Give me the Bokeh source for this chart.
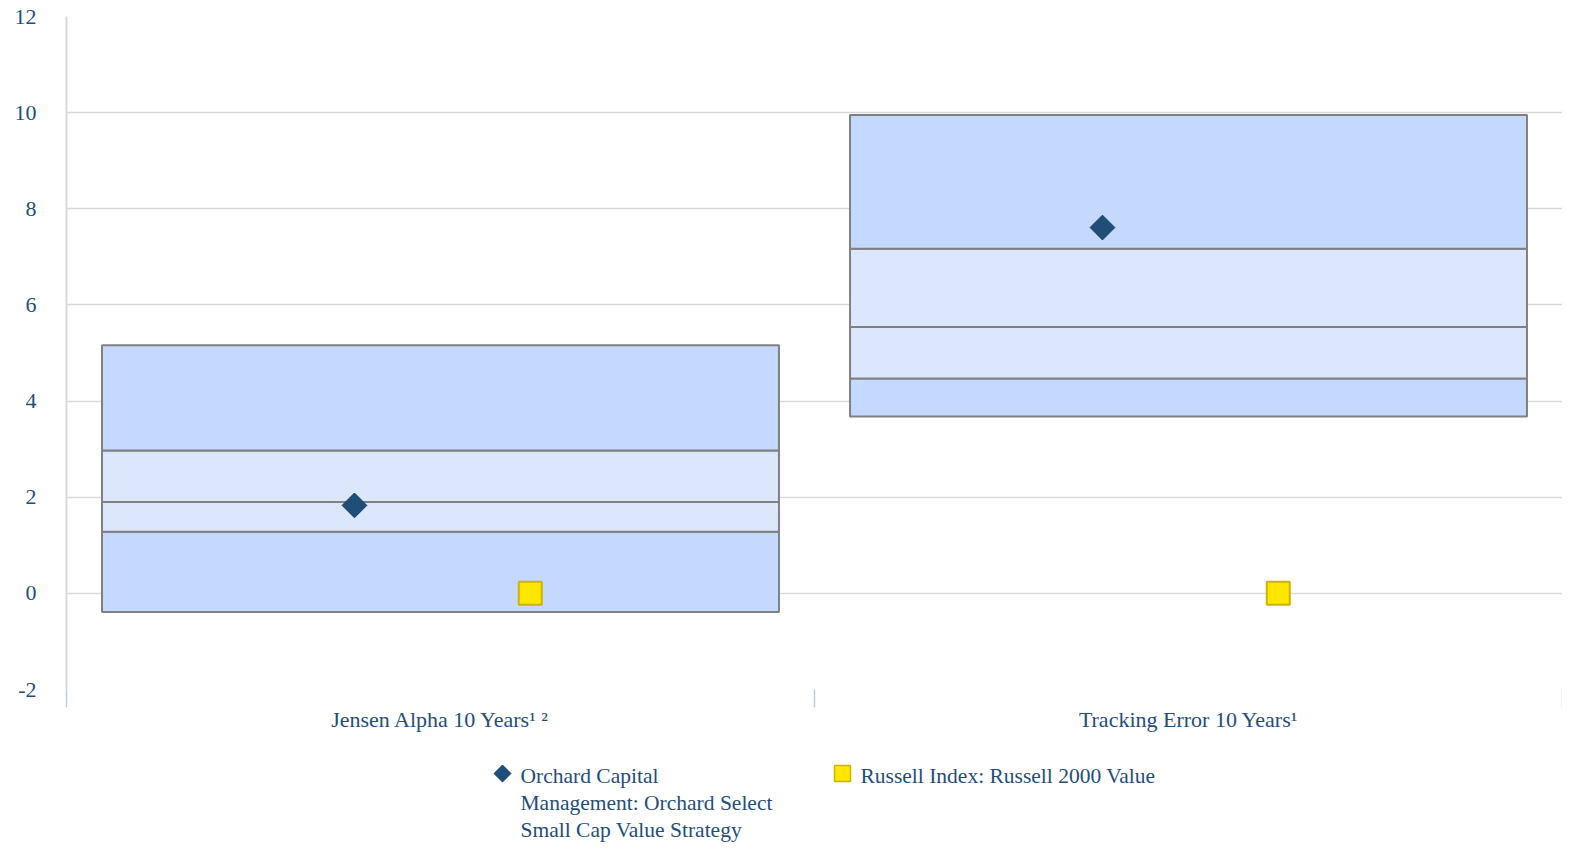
import numpy as np
from bokeh.plotting import figure
from bokeh.layouts import column
from bokeh.models import FixedTicker, Range1d
from bokeh.core.properties import value
from bokeh.embed import file_html
from bokeh.resources import INLINE

# ---------------- data ----------------
categories = ["Jensen Alpha 10 Years\u00b9 \u00b2", "Tracking Error 10 Years\u00b9"]
p05 = [-0.39, 3.68]
p25 = [1.28, 4.47]
p50 = [1.90, 5.54]
p75 = [2.97, 7.17]
p95 = [5.16, 9.95]
strategy_vals = [1.83, 7.61]
index_vals = [0.0, 0.0]
y_ticks = [-2, 0, 2, 4, 6, 8, 10, 12]
series_names = [
    "Orchard Capital\nManagement: Orchard Select\nSmall Cap Value Strategy",
    "Russell Index: Russell 2000 Value",
]

# ---------------- style ----------------
TEXT = "#1f4e79"
FONT = "Liberation Serif"
DARK = "#c5d8fd"
LIGHT = "#dce6fd"
EDGE = "#808080"
DIAMOND_FILL, DIAMOND_LINE = "#1f4e79", "#173d60"
SQUARE_FILL, SQUARE_LINE = "#ffe600", "#cbb500"

W = 1562
MAIN_H = 745
LEG_H = 98
LEFT = 66

n = len(categories)
centers = np.arange(n) + 0.5
box_w = 0.905

p = figure(width=W, height=MAIN_H, output_backend="svg", toolbar_location=None,
           x_range=Range1d(0, n), y_range=Range1d(-2, 12),
           min_border_left=LEFT, min_border_right=0, min_border_top=16, min_border_bottom=56)
p.outline_line_color = None

left = centers - box_w / 2
right = centers + box_w / 2
bands = [(p05, p25, DARK), (p25, p50, LIGHT), (p50, p75, LIGHT), (p75, p95, DARK)]
for lo, hi, col in bands:
    p.quad(left=left, right=right, bottom=lo, top=hi, fill_color=col,
           line_color=EDGE, line_width=2)

p.scatter(x=centers - 0.115, y=strategy_vals, marker="square", angle=np.pi / 4,
          size=17.5, fill_color=DIAMOND_FILL, line_color=DIAMOND_LINE, line_width=1)
p.scatter(x=centers + 0.12, y=index_vals, marker="square", size=23,
          fill_color=SQUARE_FILL, line_color=SQUARE_LINE, line_width=2)

# axes
p.xgrid.visible = False
p.ygrid.ticker = FixedTicker(ticks=y_ticks)
p.ygrid.grid_line_color = "#d9d9d9"
p.ygrid.grid_line_width = 1.5

p.yaxis.ticker = FixedTicker(ticks=y_ticks)
p.yaxis.major_label_overrides = {t: str(t) for t in y_ticks}
p.yaxis.axis_line_color = "#d9d9d9"
p.yaxis.axis_line_width = 2
p.yaxis.major_tick_line_color = None
p.yaxis.minor_tick_line_color = None
p.yaxis.major_tick_out = 0
p.yaxis.major_tick_in = 0
p.yaxis.major_label_standoff = 30
p.yaxis.major_label_text_font = FONT
p.yaxis.major_label_text_font_size = "22px"
p.yaxis.major_label_text_color = TEXT

p.xaxis.ticker = FixedTicker(ticks=list(centers), minor_ticks=list(range(n + 1)))
p.xaxis.major_label_overrides = {float(c): cat for c, cat in zip(centers, categories)}
p.xaxis.axis_line_color = None
p.xaxis.major_tick_line_color = None
p.xaxis.major_tick_out = 0
p.xaxis.major_tick_in = 0
p.xaxis.minor_tick_line_color = "#bfcde2"
p.xaxis.minor_tick_line_width = 1.5
p.xaxis.minor_tick_out = 18
p.xaxis.minor_tick_in = 0
p.xaxis.major_label_standoff = -1
p.xaxis.major_label_text_font = FONT
p.xaxis.major_label_text_font_size = "22px"
p.xaxis.major_label_text_color = TEXT

# ---------------- legend strip (pixel coordinates, y measured downward) ----------------
lg = figure(width=W, height=LEG_H, output_backend="svg", toolbar_location=None,
            x_range=Range1d(LEFT, W), y_range=Range1d(LEG_H, 0),
            x_axis_type=None, y_axis_type=None,
            min_border_left=LEFT, min_border_right=0,
            min_border_top=0, min_border_bottom=0)
lg.outline_line_color = None
lg.xgrid.visible = False
lg.ygrid.visible = False

key_x = [502, 842]
key_y = 28
label_dx = 18
lg.scatter(x=[key_x[0]], y=[key_y], marker="square", angle=np.pi / 4, size=12,
           fill_color=DIAMOND_FILL, line_color=DIAMOND_LINE, line_width=1)
lg.scatter(x=[key_x[1]], y=[key_y], marker="square", size=16,
           fill_color=SQUARE_FILL, line_color=SQUARE_LINE, line_width=1.5)
lg.text(x=[kx + label_dx for kx in key_x], y=[key_y + 3, key_y + 3], text=series_names,
        text_font=value(FONT), text_font_size="21.5px", text_color=TEXT,
        text_align="left", text_baseline="top", text_line_height=1.13,
        y_offset=-13)

open("out.html", "w").write(file_html(column(p, lg, spacing=0), INLINE))
